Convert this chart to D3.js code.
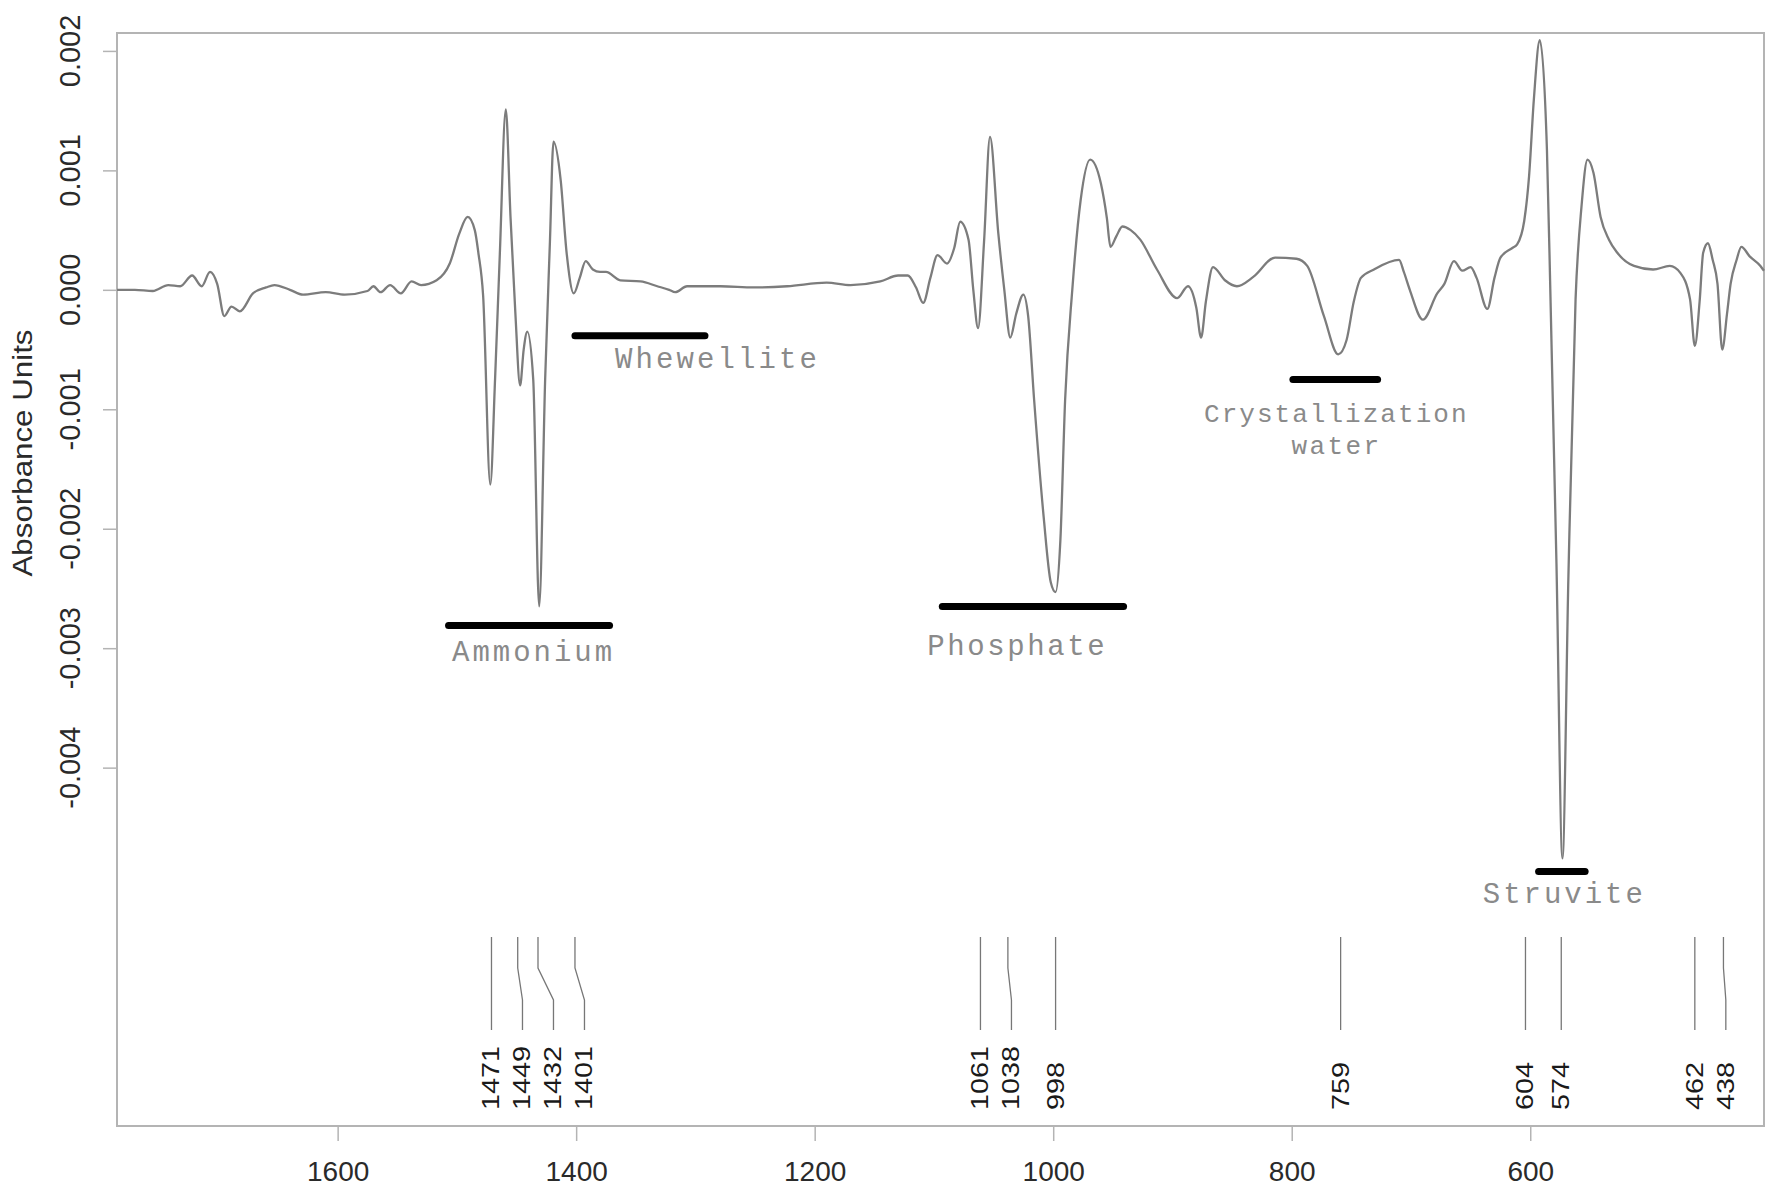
<!DOCTYPE html>
<html><head><meta charset="utf-8">
<script src="https://cdn.jsdelivr.net/npm/d3@7"></script>
<style>html,body{margin:0;padding:0;background:#fff;} svg{display:block;}</style>
</head><body>
<svg id="chart" width="1779" height="1204"></svg>
<script>
// ---------- data ----------
const wavenumbers = [1785,1770,1755,1742,1732,1722,1714,1707,1701,1695,1689,1682,1671,1660,1653,1640,1629,1610,1594,1575,1570,1564,1556,1547,1538,1530,1517,1506,1498,1491,1485,1482,1478,1472,1468,1464,1459,1455,1451,1447,1444,1441,1436,1431,1426,1422,1419,1413,1408,1402,1397,1392,1386,1380,1375,1363,1346,1332,1322,1317,1307,1279,1251,1223,1190,1170,1145,1130,1122,1115,1109,1103,1097,1089,1083,1078,1071,1067,1063,1058,1053,1046,1041,1036,1031,1025,1021,1016,1008,1002,998,994,990,984,977,969,960,955,952,947,942,935,927,913,896,887,880,876,872,866,856,846,832,814,796,787,773,761,754,748,742,731,710,706,701,690,678,672,664,657,650,645,636,630,625,615,611,605,601,597,592,586,583,578,573,568,562,557,552,547,541,534,527,513,497,483,474,466,462,458,455,451,447,443,439,435,432,427,423,416,407,404];
const absorbance = [0.00000,0.00000,-0.00001,0.00004,0.00003,0.00012,0.00003,0.00015,0.00005,-0.00022,-0.00014,-0.00018,-0.00003,0.00002,0.00004,0.00000,-0.00004,-0.00002,-0.00004,-0.00001,0.00003,-0.00002,0.00004,-0.00003,0.00007,0.00004,0.00008,0.00022,0.00047,0.00061,0.00050,0.00031,-0.00005,-0.00163,-0.00075,0.00030,0.00151,0.00060,-0.00019,-0.00080,-0.00050,-0.00035,-0.00075,-0.00265,-0.00075,0.00040,0.00124,0.00092,0.00031,-0.00003,0.00010,0.00024,0.00017,0.00015,0.00015,0.00008,0.00007,0.00003,0.00000,-0.00002,0.00003,0.00003,0.00002,0.00003,0.00006,0.00004,0.00007,0.00012,0.00012,0.00002,-0.00011,0.00010,0.00029,0.00022,0.00035,0.00057,0.00042,0.00000,-0.00032,0.00040,0.00128,0.00047,0.00000,-0.00040,-0.00020,-0.00004,-0.00022,-0.00092,-0.00190,-0.00245,-0.00253,-0.00210,-0.00092,0.00000,0.00075,0.00109,0.00089,0.00060,0.00036,0.00045,0.00053,0.00050,0.00042,0.00017,-0.00007,0.00003,-0.00015,-0.00040,-0.00010,0.00019,0.00008,0.00003,0.00011,0.00027,0.00026,0.00020,-0.00022,-0.00054,-0.00042,-0.00010,0.00010,0.00017,0.00025,0.00015,0.00000,-0.00025,-0.00003,0.00005,0.00024,0.00016,0.00019,0.00010,-0.00016,0.00010,0.00027,0.00035,0.00038,0.00058,0.00095,0.00159,0.00209,0.00117,-0.00008,-0.00230,-0.00476,-0.00240,-0.00008,0.00070,0.00109,0.00098,0.00061,0.00042,0.00031,0.00020,0.00017,0.00020,0.00014,-0.00008,-0.00047,-0.00010,0.00031,0.00039,0.00025,0.00005,-0.00050,-0.00020,0.00005,0.00025,0.00036,0.00028,0.00020,0.00016];

const xTickValues = [1600,1400,1200,1000,800,600];
const yTickValues = [0.002,0.001,0,-0.001,-0.002,-0.003,-0.004];
const yTickLabels = ["0.002","0.001","0.000","-0.001","-0.002","-0.003","-0.004"];
const yAxisTitle = "Absorbance Units";

const peakPositions = [1471,1449,1432,1401,1061,1038,998,759,604,574,462,438];

const bandNames = [["Ammonium"],["Whewellite"],["Phosphate"],["Crystallization","water"],["Struvite"]];
const bandFrom  = [1507,1401,1093,799,593];
const bandTo    = [1372,1292,941,728,554];
const bandLevel = [-0.00281,-0.000385,-0.00265,-0.00075,-0.00487];

const xDomain = [1785,404];
const yDomain = [-0.007,0.00215];

// ---------- layout / style ----------
const W = 1779, H = 1204;
const margin = {left:117, right:15, top:33, bottom:78};
const bandLabelStyle = [
  {dx:3,  dy:36, cw:20,   fs:29},
  {dx:76, dy:32, cw:20.2, fs:29},
  {dx:-17,dy:49, cw:19.7, fs:29},
  {dx:0,  dy:43, cw:17.5, fs:26},
  {dx:1,  dy:31, cw:20,   fs:29}
];

const svg = d3.select("#chart");
const x = d3.scaleLinear().domain(xDomain).range([margin.left, W - margin.right]);
const y = d3.scaleLinear().domain(yDomain).range([H - margin.bottom, margin.top]);

const frameColor = "#b4b4b4";

svg.append("rect")
  .attr("x", margin.left).attr("y", margin.top)
  .attr("width", W - margin.left - margin.right)
  .attr("height", H - margin.top - margin.bottom)
  .attr("fill", "none").attr("stroke", frameColor).attr("stroke-width", 2);

const xAxis = d3.axisBottom(x).tickValues(xTickValues).tickSize(15).tickPadding(20).tickFormat(d3.format("d"));
const gx = svg.append("g").attr("transform", `translate(0,${H - margin.bottom})`).call(xAxis);
gx.select(".domain").remove();
gx.selectAll(".tick line").attr("stroke", frameColor).attr("stroke-width", 1.5);
gx.selectAll(".tick text")
  .attr("font-family", "'Liberation Sans', Arial, sans-serif")
  .attr("font-size", 28).attr("fill", "#2a2a2a").attr("dy", "0.71em");

const yAxis = d3.axisLeft(y).tickValues(yTickValues).tickSize(14).tickFormat("");
const gy = svg.append("g").attr("transform", `translate(${margin.left},0)`).call(yAxis);
gy.select(".domain").remove();
gy.selectAll(".tick line").attr("stroke", frameColor).attr("stroke-width", 1.5);

svg.append("g").selectAll("text")
  .data(yTickValues)
  .join("text")
  .attr("transform", d => `translate(70,${y(d)}) rotate(-90)`)
  .attr("text-anchor", "middle")
  .attr("dominant-baseline", "central")
  .attr("font-family", "'Liberation Sans', Arial, sans-serif")
  .attr("font-size", 29).attr("fill", "#2a2a2a")
  .text((d, i) => yTickLabels[i]);

svg.append("text")
  .attr("transform", `translate(23,${453}) rotate(-90)`)
  .attr("text-anchor", "middle")
  .attr("dominant-baseline", "central")
  .attr("font-family", "'Liberation Sans', Arial, sans-serif")
  .attr("font-size", 27).attr("fill", "#2a2a2a")
  .attr("textLength", 247).attr("lengthAdjust", "spacingAndGlyphs")
  .text(yAxisTitle);

const pts = wavenumbers.map((w, i) => [w, absorbance[i]]);
const line = d3.line().x(d => x(d[0])).y(d => y(d[1])).curve(d3.curveMonotoneX);
svg.append("path")
  .datum(pts)
  .attr("d", line)
  .attr("fill", "none")
  .attr("stroke", "#7c7c7c")
  .attr("stroke-width", 2.3)
  .attr("stroke-linejoin", "round");

bandNames.forEach((names, i) => {
  svg.append("line")
    .attr("x1", x(bandFrom[i])).attr("x2", x(bandTo[i]))
    .attr("y1", y(bandLevel[i])).attr("y2", y(bandLevel[i]))
    .attr("stroke", "#000").attr("stroke-width", 7).attr("stroke-linecap", "round");
  const st = bandLabelStyle[i];
  const cx = x((bandFrom[i] + bandTo[i]) / 2) + st.dx;
  names.forEach((nm, j) => {
    svg.append("text")
      .attr("x", cx).attr("y", y(bandLevel[i]) + st.dy + j * 32)
      .attr("text-anchor", "middle")
      .attr("font-family", "'Liberation Mono', 'Courier New', monospace")
      .attr("font-size", st.fs)
      .attr("fill", "#8a8a8a")
      .attr("textLength", nm.length * st.cw)
      .attr("lengthAdjust", "spacing")
      .text(nm);
  });
});

const yTopLine = 937, yBend1 = 968, yBend2 = 1000, yBottomLine = 1030, yLabelStart = 1110;
const gap = 31;
const labelX = [];
peakPositions.forEach((p, i) => {
  const px = x(p);
  labelX.push(i === 0 ? px : Math.max(px, labelX[i - 1] + gap));
});
const gp = svg.append("g");
peakPositions.forEach((p, i) => {
  const px = x(p), lx = labelX[i];
  gp.append("path")
    .attr("d", `M${px},${yTopLine} L${px},${yBend1} L${lx},${yBend2} L${lx},${yBottomLine}`)
    .attr("fill", "none").attr("stroke", "#777").attr("stroke-width", 1.3);
  const s = String(p);
  gp.append("text")
    .attr("transform", `translate(${lx},${yLabelStart}) rotate(-90)`)
    .attr("text-anchor", "start")
    .attr("dominant-baseline", "central")
    .attr("font-family", "'Liberation Sans', Arial, sans-serif")
    .attr("font-size", 23).attr("fill", "#1a1a1a")
    .attr("textLength", s.length * 16).attr("lengthAdjust", "spacingAndGlyphs")
    .text(s);
});
</script>
</body></html>
